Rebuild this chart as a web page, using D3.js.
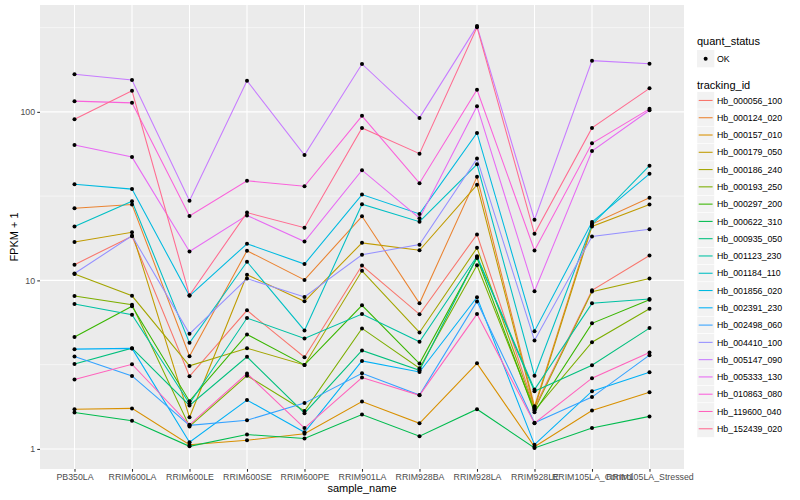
<!DOCTYPE html>
<html lang="en">
<head>
<meta charset="UTF-8">
<title>FPKM by sample</title>
<script src="https://d3js.org/d3.v7.min.js"></script>
<style>
  body { margin: 0; background: #fff; }
  svg { display: block; font-family: "Liberation Sans", Arial, Helvetica, sans-serif; }
  .tick text { fill: #4D4D4D; font-size: 8.8px; }
  .tick line { stroke: #333; stroke-width: 1.07; }
</style>
</head>
<body>
<svg id="chart" width="800" height="500"></svg>
<script>
// sample order on the x axis
const samples = ["PB350LA", "RRIM600LA", "RRIM600LE", "RRIM600SE", "RRIM600PE", "RRIM901LA",
  "RRIM928BA", "RRIM928LA", "RRIM928LE", "RRIM105LA_Control", "RRIM105LA_Stressed"];

const trackingIds = ["Hb_000056_100", "Hb_000124_020", "Hb_000157_010", "Hb_000179_050", "Hb_000186_240",
  "Hb_000193_250", "Hb_000297_200", "Hb_000622_310", "Hb_000935_050", "Hb_001123_230",
  "Hb_001184_110", "Hb_001856_020", "Hb_002391_230", "Hb_002498_060", "Hb_004410_100",
  "Hb_005147_090", "Hb_005333_130", "Hb_010863_080", "Hb_119600_040", "Hb_152439_020"];

// FPKM + 1, one value per sample
const Hb_000056_100 = [12.4, 18.3, 2.70, 6.64, 3.50, 12.25, 6.29, 18.75, 1.76, 8.74, 14.05];
const Hb_000124_020 = [26.8, 28.2, 3.55, 15.0, 10.07, 24.0, 7.31, 41.2, 1.79, 21.6, 30.9];
const Hb_000157_010 = [1.72, 1.74, 1.06, 1.125, 1.23, 1.91, 1.42, 3.22, 1.03, 1.69, 2.17];
const Hb_000179_050 = [16.9, 19.3, 1.54, 10.8, 7.52, 16.7, 15.1, 36.9, 1.74, 20.9, 28.2];
const Hb_000186_240 = [10.9, 8.1, 3.11, 3.96, 3.15, 11.4, 4.91, 15.6, 1.71, 8.58, 10.25];
const Hb_000193_250 = [8.08, 7.17, 1.36, 2.72, 1.68, 5.19, 3.01, 12.3, 1.69, 4.30, 6.79];
const Hb_000297_200 = [4.61, 7.02, 1.92, 4.78, 3.15, 7.11, 3.21, 13.6, 1.65, 5.56, 7.68];
const Hb_000622_310 = [1.645, 1.47, 1.036, 1.217, 1.152, 1.60, 1.19, 1.72, 1.014, 1.33, 1.56];
const Hb_000935_050 = [3.19, 3.96, 1.81, 3.52, 1.63, 3.84, 2.93, 13.75, 2.20, 3.14, 5.21];
const Hb_001123_230 = [7.24, 6.25, 1.86, 5.98, 4.52, 6.31, 4.32, 13.9, 2.25, 7.31, 7.76];
const Hb_001184_110 = [20.9, 29.5, 4.26, 12.9, 5.05, 28.3, 22.3, 48.8, 2.72, 21.4, 47.9];
const Hb_001856_020 = [37.2, 34.8, 8.1, 16.5, 12.5, 32.3, 24.8, 75.0, 5.0, 22.2, 42.9];
const Hb_002391_230 = [3.91, 3.95, 1.095, 1.95, 1.256, 3.33, 2.86, 7.94, 1.06, 2.20, 2.85];
const Hb_002498_060 = [3.53, 2.71, 1.38, 1.48, 1.87, 2.81, 2.09, 7.50, 1.43, 2.03, 3.60];
const Hb_004410_100 = [10.98, 18.4, 4.82, 10.25, 7.97, 14.2, 16.3, 52.8, 4.40, 18.2, 20.1];
const Hb_005147_090 = [167.1, 154.5, 29.7, 153.0, 55.4, 192.4, 92.1, 322.8, 22.9, 201.3, 193.2];
const Hb_005333_130 = [63.6, 53.9, 14.85, 24.3, 17.0, 45.1, 23.4, 108.1, 8.62, 58.6, 102.3];
const Hb_010863_080 = [115.8, 113.1, 24.1, 39.0, 36.2, 94.7, 37.75, 135.3, 15.05, 65.1, 104.2];
const Hb_119600_040 = [2.58, 3.18, 1.39, 2.80, 1.33, 2.65, 2.08, 6.31, 1.42, 2.63, 3.73];
const Hb_152439_020 = [90.5, 133.4, 8.16, 25.25, 20.55, 80.3, 56.5, 318, 18.9, 80.3, 137.9];

const seriesValues = [Hb_000056_100, Hb_000124_020, Hb_000157_010, Hb_000179_050, Hb_000186_240,
  Hb_000193_250, Hb_000297_200, Hb_000622_310, Hb_000935_050, Hb_001123_230,
  Hb_001184_110, Hb_001856_020, Hb_002391_230, Hb_002498_060, Hb_004410_100,
  Hb_005147_090, Hb_005333_130, Hb_010863_080, Hb_119600_040, Hb_152439_020];

const yTicks = [1, 10, 100];
const yMinor = [Math.pow(10, 0.5), Math.pow(10, 1.5), Math.pow(10, 2.5)];

// ggplot default hue palette for 20 groups
const palette = ["#F8766D", "#EA8331", "#D89000", "#C09B00", "#A3A500", "#7CAE00", "#39B600", "#00BB4E",
  "#00BF7D", "#00C1A3", "#00BFC4", "#00BAE0", "#00B0F6", "#35A2FF", "#9590FF", "#C77CFF",
  "#E76BF3", "#FA62DB", "#FF62BC", "#FF6C91"];

const svg = d3.select("#chart");
const panel = { left: 40, right: 684, top: 5, bottom: 469 };

const series = trackingIds.map((id, i) => ({
  id: id,
  color: palette[i],
  values: samples.map((s, j) => ({ sample: s, value: seriesValues[i][j] }))
}));

// x: discrete, 0.6 step padding like ggplot
const x = d3.scalePoint().domain(samples).range([panel.left, panel.right]).padding(0.6);

// y: log10 with 5% expansion of the data range
const allVals = seriesValues.flat();
const lo = Math.log10(d3.min(allVals)), hi = Math.log10(d3.max(allVals));
const pad = (hi - lo) * 0.05;
const y = d3.scaleLog()
  .domain([Math.pow(10, lo - pad), Math.pow(10, hi + pad)])
  .range([panel.bottom, panel.top]);

// panel background + grid
svg.append("rect")
  .attr("x", panel.left).attr("y", panel.top)
  .attr("width", panel.right - panel.left).attr("height", panel.bottom - panel.top)
  .attr("fill", "#EBEBEB");

svg.append("g").selectAll("line").data(yMinor).join("line")
  .attr("x1", panel.left).attr("x2", panel.right)
  .attr("y1", d => y(d)).attr("y2", d => y(d))
  .attr("stroke", "#fff").attr("stroke-width", 0.53);

svg.append("g").selectAll("line").data(yTicks).join("line")
  .attr("x1", panel.left).attr("x2", panel.right)
  .attr("y1", d => y(d)).attr("y2", d => y(d))
  .attr("stroke", "#fff").attr("stroke-width", 1.07);

svg.append("g").selectAll("line").data(samples).join("line")
  .attr("x1", d => x(d)).attr("x2", d => x(d))
  .attr("y1", panel.top).attr("y2", panel.bottom)
  .attr("stroke", "#fff").attr("stroke-width", 1.07);

// lines
const line = d3.line().x(d => x(d.sample)).y(d => y(d.value));
svg.append("g").selectAll("path").data(series).join("path")
  .attr("d", d => line(d.values))
  .attr("fill", "none")
  .attr("stroke", d => d.color)
  .attr("stroke-width", 1.07);

// points on top
svg.append("g").selectAll("circle")
  .data(series.flatMap(s => s.values)).join("circle")
  .attr("cx", d => x(d.sample)).attr("cy", d => y(d.value))
  .attr("r", 2).attr("fill", "#000");

// axes
const yAxis = svg.append("g")
  .attr("transform", `translate(${panel.left},0)`)
  .call(d3.axisLeft(y).tickValues(yTicks).tickFormat(d3.format("d")).tickSize(2.75).tickPadding(2.2));
yAxis.select(".domain").remove();

const xAxis = svg.append("g")
  .attr("transform", `translate(0,${panel.bottom})`)
  .call(d3.axisBottom(x).tickSize(2.75).tickPadding(2.2));
xAxis.select(".domain").remove();

// axis titles
svg.append("text")
  .attr("x", (panel.left + panel.right) / 2).attr("y", 492)
  .attr("text-anchor", "middle").attr("font-size", 11).attr("fill", "#000")
  .text("sample_name");

svg.append("text")
  .attr("transform", `translate(18,${(panel.top + panel.bottom) / 2}) rotate(-90)`)
  .attr("text-anchor", "middle").attr("font-size", 11).attr("fill", "#000")
  .text("FPKM + 1");

// legends
const lg = svg.append("g").attr("transform", "translate(697,0)");
lg.append("text").attr("x", 0).attr("y", 45).attr("font-size", 11).text("quant_status");
lg.append("rect").attr("x", 0).attr("y", 50).attr("width", 17.3).attr("height", 17.3).attr("fill", "#F2F2F2");
lg.append("circle").attr("cx", 8.65).attr("cy", 58.65).attr("r", 2).attr("fill", "#000");
lg.append("text").attr("x", 20).attr("y", 61.8).attr("font-size", 8.8).text("OK");

lg.append("text").attr("x", 0).attr("y", 89).attr("font-size", 11).text("tracking_id");
const keys = lg.selectAll("g.key").data(series).join("g")
  .attr("class", "key")
  .attr("transform", (d, i) => `translate(0,${91.8 + i * 17.28})`);
keys.append("rect").attr("width", 17.3).attr("height", 17.3).attr("fill", "#F2F2F2")
  .attr("stroke", "#fff").attr("stroke-width", 0.5);
keys.append("line").attr("x1", 1.7).attr("x2", 15.6).attr("y1", 8.65).attr("y2", 8.65)
  .attr("stroke", d => d.color).attr("stroke-width", 1.07);
keys.append("text").attr("x", 20).attr("y", 11.8).attr("font-size", 8.8).text(d => d.id);
</script>
</body>
</html>
